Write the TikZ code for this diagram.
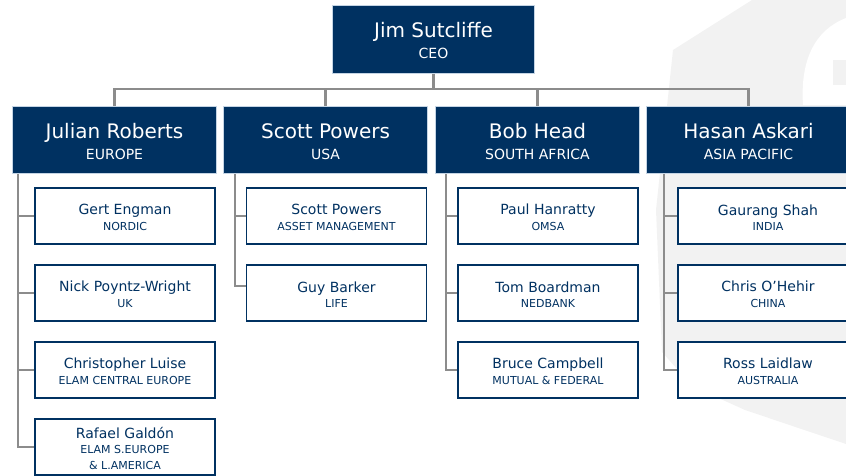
\documentclass[tikz,border=0pt]{standalone}
\usepackage{fontspec}
\setmainfont{DejaVu Sans}
\usetikzlibrary{positioning, backgrounds}
\definecolor{navy}{RGB}{0,49,97}
\definecolor{navyedge}{RGB}{196,212,228}
\definecolor{wmark}{RGB}{242,242,242}
\newcommand{\bigname}[1]{{\fontsize{20}{21}\selectfont\rule{0pt}{18pt}#1}}
\newcommand{\kidname}[1]{{\fontsize{14}{15.7}\selectfont\rule{0pt}{13.8pt}#1}}

\begin{document}
\begin{tikzpicture}[x=1pt,y=-1pt,
  boss/.style={fill=navy,draw=navyedge,line width=0.7pt,text=white,align=center,
    minimum width=204pt,minimum height=67.5pt,font=\fontsize{14}{21}\selectfont},
  kid/.style={fill=white,draw=navy,line width=1.7pt,text=navy,align=center,
    minimum width=180pt,minimum height=56.5pt,font=\fontsize{11}{15.7}\selectfont},
  wire/.style={draw=black!45,line width=2.3pt}]
\useasboundingbox (0,0) rectangle (846,475);

% top and heads
\node[boss,minimum width=202pt,minimum height=68.5pt] (jim) at (433.5,39.5) {\bigname{Jim Sutcliffe}\\CEO};
\node[boss] (julian) at (114.5,140) {\bigname{Julian Roberts}\\EUROPE};
\node[boss] (scott) at (325.5,140) {\bigname{Scott Powers}\\USA};
\node[boss] (bob) at (537.5,140) {\bigname{Bob Head}\\SOUTH AFRICA};
\node[boss] (hasan) at (748.5,140) {\bigname{Hasan Askari}\\ASIA PACIFIC};

% Europe
\node[kid] (gert) at (125,216) {\kidname{Gert Engman}\\NORDIC};
\node[kid] (nick) at (125,293) {\kidname{Nick Poyntz-Wright}\\UK};
\node[kid] (chris) at (125,370) {\kidname{Christopher Luise}\\ELAM CENTRAL EUROPE};
\node[kid] (rafael) at (125,447) {\kidname{Rafael Galdón}\\ELAM S.EUROPE\\\&~L.AMERICA};
% USA
\node[kid] (scottam) at (336.5,216) {\kidname{Scott Powers}\\ASSET MANAGEMENT};
\node[kid] (guy) at (336.5,293) {\kidname{Guy Barker}\\LIFE};
% South Africa
\node[kid] (paul) at (548,216) {\kidname{Paul Hanratty}\\OMSA};
\node[kid] (tom) at (548,293) {\kidname{Tom Boardman}\\NEDBANK};
\node[kid] (bruce) at (548,370) {\kidname{Bruce Campbell}\\MUTUAL \& FEDERAL};
% Asia Pacific
\node[kid] (gaurang) at (768,216) {\kidname{Gaurang Shah}\\INDIA};
\node[kid] (chrisoh) at (768,293) {\kidname{Chris O’Hehir}\\CHINA};
\node[kid] (ross) at (768,370) {\kidname{Ross Laidlaw}\\AUSTRALIA};

\coordinate (jrbus) at ([xshift=6pt]julian.south west);
\coordinate (spbus) at ([xshift=12pt]scott.south west);
\coordinate (bhbus) at ([xshift=11pt]bob.south west);
\coordinate (habus) at ([xshift=18pt]hasan.south west);

\begin{scope}[on background layer]
% faint logo behind
\fill[wmark] (673,50) -- (752,0) -- (846,0) -- (846,444) -- (745,410) -- (692,386)
  -- (662,352) -- (656,210) -- cycle;
\fill[white] (846,18) .. controls (815,30) and (800,60) .. (803,105) -- (846,105) -- cycle;
\fill[wmark] (833,60) rectangle (846,85);
% connectors
\draw[wire] (jim.south) -- ++(0,15) coordinate (top);
\draw[wire] (julian.north) |- (top) -| (hasan.north);
\draw[wire] (scott.north) -- (scott.north |- top);
\draw[wire] (bob.north) -- (bob.north |- top);
\foreach \k in {gert,nick,chris,rafael}
  \draw[wire] (jrbus) |- (\k.west);
\draw[wire] (spbus) |- (scottam.west);
\draw[wire] (spbus) |- ([yshift=7pt]guy.west);
\foreach \k in {paul,tom,bruce}
  \draw[wire] (bhbus) |- (\k.west);
\foreach \k in {gaurang,chrisoh,ross}
  \draw[wire] (habus) |- (\k.west);
\end{scope}
\end{tikzpicture}
\end{document}
